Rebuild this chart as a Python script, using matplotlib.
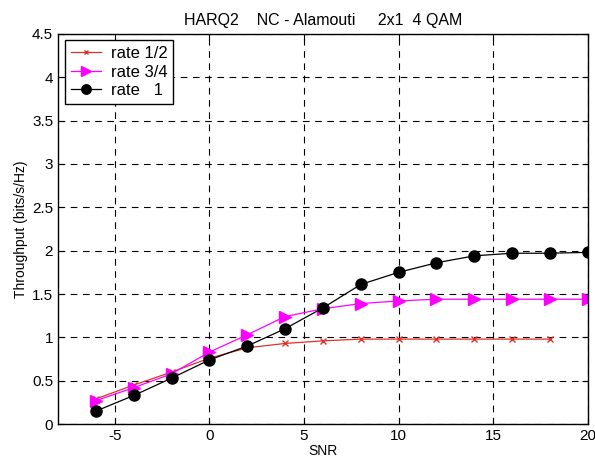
import numpy as np
import matplotlib
matplotlib.use("Agg")
import matplotlib.pyplot as plt

plt.rcParams['font.family'] = ['Liberation Sans', 'DejaVu Sans']
plt.rcParams['axes.unicode_minus'] = False

# data
snr = [-6, -4, -2, 0, 2, 4, 6, 8, 10, 12, 14, 16, 18, 20]
snr_half = [-6, -4, -2, 0, 2, 4, 6, 8, 10, 12, 14, 16, 18]
rate_half = [0.29, 0.45, 0.60, 0.76, 0.88, 0.93, 0.96, 0.98, 0.98, 0.98, 0.98, 0.98, 0.98]
rate_34 = [0.27, 0.42, 0.58, 0.83, 1.03, 1.24, 1.33, 1.39, 1.42, 1.44, 1.44, 1.44, 1.44, 1.44]
rate_1 = [0.15, 0.33, 0.53, 0.74, 0.90, 1.10, 1.34, 1.61, 1.75, 1.86, 1.94, 1.97, 1.97, 1.98]

fig = plt.figure(figsize=(5.95, 4.63), dpi=100)
ax = fig.add_axes([0.0975, 0.084, 0.8905, 0.843])

ax.plot(snr_half, rate_half, color='#e0302a', marker='x', markersize=4, linewidth=0.9, label='rate 1/2')
ax.plot(snr, rate_34, color='#ff00ff', marker='>', markersize=9, linewidth=0.9, label='rate 3/4')
ax.plot(snr, rate_1, color='black', marker='o', markersize=8, linewidth=0.9, label='rate   1')

ax.set_xlim(-8, 20)
ax.set_ylim(0, 4.5)
ax.set_xticks([-5, 0, 5, 10, 15, 20])
ax.set_yticks(np.arange(0, 4.51, 0.5))
ax.set_yticklabels(['0', '0.5', '1', '1.5', '2', '2.5', '3', '3.5', '4', '4.5'])
ax.grid(True, color='black', linestyle=(0, (6, 5)), linewidth=0.8)
ax.tick_params(direction='in', labelsize=11, top=True, right=True, length=4)
for s in ax.spines.values():
    s.set_linewidth(1.0)

ax.set_xlabel('SNR', fontsize=10, labelpad=1)
ax.set_ylabel('Throughput (bits/s/Hz)', fontsize=10, labelpad=3)
ax.set_title('HARQ2    NC - Alamouti     2x1  4 QAM', fontsize=11.5, pad=6)

leg = ax.legend(loc='upper left', fontsize=12, fancybox=False, edgecolor='black',
                framealpha=1, handlelength=1.8, borderaxespad=0.4, labelspacing=0.2,
                borderpad=0.35, handletextpad=0.6, markerscale=0.85)
leg.get_frame().set_linewidth(1.0)

fig.savefig('out.png', dpi=100)
